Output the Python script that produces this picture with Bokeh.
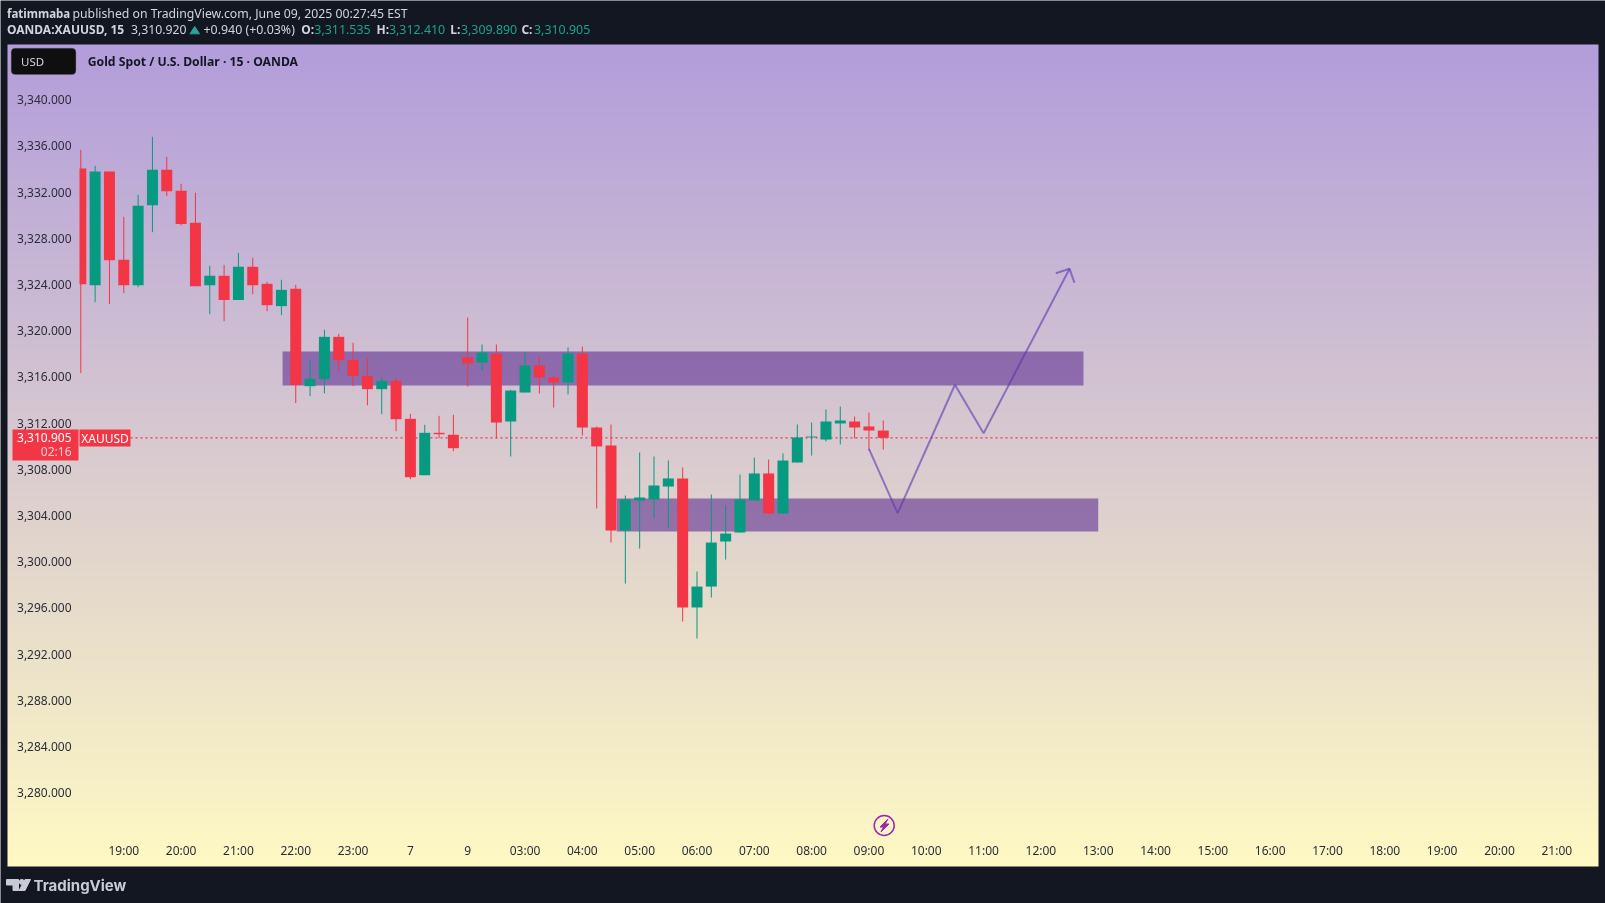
import numpy as np
from bokeh.core.properties import value
from bokeh.embed import file_html
from bokeh.models import BoxAnnotation, FixedTicker, LinearAxis, NumeralTickFormatter, Range1d
from bokeh.plotting import figure
from bokeh.resources import INLINE

# candles, 15 min bars, first bar is 18:15
opens = [3334.22, 3324.12, 3333.97, 3326.32, 3324.12, 3331.05, 3334.11, 3332.29, 3329.52, 3324.12,
         3324.93, 3322.83, 3325.71, 3324.24, 3322.31, 3323.81, 3315.38, 3315.99, 3319.65, 3317.66,
         3316.27, 3315.12, 3315.84, 3312.55, 3307.67, 3311.34, 3311.17, 3317.86, 3317.43, 3318.18,
         3312.32, 3314.83, 3317.17, 3316.13, 3315.70, 3318.21, 3311.80, 3310.24, 3302.88, 3305.48,
         3305.57, 3306.69, 3307.39, 3296.22, 3298.03, 3301.93, 3302.71, 3305.48, 3307.82, 3304.35,
         3308.77, 3310.94, 3310.76, 3312.15, 3312.32, 3311.89, 3311.535]
highs = [3335.84, 3334.46, 3333.97, 3330.04, 3331.95, 3336.97, 3335.24, 3332.90, 3332.12, 3325.80,
         3325.88, 3326.92, 3326.49, 3324.41, 3324.59, 3324.15, 3317.66, 3320.26, 3319.91, 3319.13,
         3317.83, 3316.10, 3316.10, 3312.98, 3312.03, 3312.81, 3312.90, 3321.32, 3318.99, 3318.99,
         3315.06, 3318.29, 3317.95, 3316.30, 3318.73, 3318.81, 3311.89, 3312.06, 3305.91, 3309.64,
         3309.29, 3308.94, 3308.34, 3299.33, 3306.00, 3305.05, 3307.73, 3309.20, 3309.03, 3309.55,
         3312.06, 3312.23, 3313.36, 3313.62, 3312.75, 3313.10, 3312.41]
lows = [3316.51, 3322.65, 3322.48, 3323.43, 3323.95, 3328.71, 3331.83, 3329.29, 3324.04, 3321.61,
        3321.01, 3322.83, 3323.34, 3321.87, 3321.53, 3313.91, 3314.51, 3314.77, 3316.68, 3315.38,
        3313.73, 3312.96, 3311.48, 3307.33, 3307.67, 3310.88, 3309.75, 3315.35, 3316.74, 3310.85,
        3309.29, 3314.83, 3314.74, 3313.53, 3314.66, 3311.11, 3304.79, 3301.84, 3298.29, 3301.32,
        3303.92, 3303.06, 3295.00, 3293.53, 3297.08, 3300.37, 3302.71, 3305.48, 3304.35, 3304.35,
        3308.77, 3309.38, 3310.59, 3310.33, 3310.85, 3309.81, 3309.89]
closes = [3324.21, 3333.97, 3326.29, 3324.12, 3330.99, 3334.11, 3332.26, 3329.41, 3324.04, 3324.93,
          3322.83, 3325.71, 3324.12, 3322.39, 3323.72, 3315.47, 3316.01, 3319.65, 3317.63, 3316.25,
          3315.12, 3315.84, 3312.52, 3307.50, 3311.34, 3311.22, 3310.01, 3317.34, 3318.29, 3312.23,
          3315.00, 3317.17, 3316.13, 3315.70, 3318.21, 3311.80, 3310.16, 3302.88, 3305.57, 3305.74,
          3306.78, 3307.39, 3296.22, 3298.03, 3301.84, 3302.62, 3305.57, 3307.82, 3304.35, 3308.94,
          3310.94, 3311.02, 3312.32, 3312.41, 3311.80, 3311.54, 3310.905]

# hand drawn stuff on the chart
zone_left = [14.08, 37.4]
zone_right = [69.97, 71.0]
zone_top = [3318.38, 3305.65]
zone_bottom = [3315.44, 3302.80]
path_bars = [55, 57, 61, 63, 69]
path_prices = [3309.95, 3304.38, 3315.50, 3311.31, 3325.54]
head_bars = [68.04, 69, 69.34]
head_prices = [3325.16, 3325.54, 3324.33]

last_price = 3310.905

price_ticks = [3280, 3284, 3288, 3292, 3296, 3300, 3304, 3308, 3312, 3316, 3320, 3324, 3328, 3332, 3336, 3340]
time_ticks = [3, 7, 11, 15, 19, 23, 27, 31, 35, 39, 43, 47, 51, 55, 59, 63, 67, 71, 75, 79, 83, 87, 91, 95, 99, 103]
time_labels = ["19:00", "20:00", "21:00", "22:00", "23:00", "7", "9", "03:00", "04:00", "05:00", "06:00", "07:00",
               "08:00", "09:00", "10:00", "11:00", "12:00", "13:00", "14:00", "15:00", "16:00", "17:00", "18:00",
               "19:00", "20:00", "21:00"]

# scale of the picture
W, H = 1605, 903
BAR_PX = 14.33
BAR0_X = 80.3
PRICE_PX = 11.55
P3316_Y = 378.5
LEFT, RIGHT, TOP, BOTTOM = 7, 1598, 44, 866
LABEL_LIFT = 2.2  # price labels sit a bit above their level
FONT = "Noto Sans"
DARK = "#131722"
RED = "#f23645"
GREEN = "#089981"


def bar_at(px):
    return (px - BAR0_X) / BAR_PX


def price_at(py):
    return 3316 + (P3316_Y - py) / PRICE_PX


p = figure(width=W, height=H, output_backend="svg", toolbar_location=None,
           x_range=Range1d(bar_at(0), bar_at(W)), y_range=Range1d(price_at(H), price_at(0)),
           x_axis_location=None, y_axis_location=None, min_border=0,
           background_fill_color=DARK, border_fill_color=DARK, outline_line_color=None)
p.styles = {"position": "fixed", "left": "0px", "top": "0px"}
p.grid.visible = False
# second set of ranges in picture pixels for header, footer and boxes
p.extra_x_ranges["px"] = Range1d(0, W)
p.extra_y_ranges["px"] = Range1d(H, 0)
p.extra_y_ranges["labels"] = Range1d(price_at(H + LABEL_LIFT), price_at(LABEL_LIFT))

# background gradient, bottom row first, packed as ABGR
rows = BOTTOM - TOP
t = np.linspace(0, 1, rows)
r = (255 + (179 - 255) * t).astype(np.uint32)
g = (249 + (157 - 249) * t).astype(np.uint32)
b = (196 + (219 - 196) * t).astype(np.uint32)
grad = (255 << 24 | b << 16 | g << 8 | r).reshape(rows, 1).astype(np.uint32)
p.image_rgba(image=[grad], x=bar_at(LEFT), y=price_at(BOTTOM), dw=bar_at(RIGHT) - bar_at(LEFT),
             dh=price_at(TOP) - price_at(BOTTOM))

# zones
p.quad(left=zone_left, right=zone_right, top=zone_top, bottom=zone_bottom,
       fill_color="#5f3093", fill_alpha=0.6, line_color=None)

# last price line
p.line([bar_at(130), bar_at(RIGHT)], [last_price, last_price], line_color=RED, line_width=1.2, line_dash=[2, 3])

# candles
bars = np.arange(len(opens))
colors = [GREEN if c >= o else RED for o, c in zip(opens, closes)]
body = 11 / BAR_PX
left = bars - body / 2
left[0] = bar_at(79)  # first bar is cut by the price scale
p.segment(x0=bars, x1=bars, y0=lows, y1=highs, line_color=colors, line_width=1)
p.quad(left=left, right=bars + body / 2, top=np.maximum(opens, closes), bottom=np.minimum(opens, closes),
       fill_color=colors, line_color=None)

# projected path
p.line(path_bars, path_prices, line_color="#5e35b1", line_alpha=0.6, line_width=2)
p.line(head_bars, head_prices, line_color="#5e35b1", line_alpha=0.6, line_width=2)

# axes sit inside the chart like on TradingView
yaxis = LinearAxis(fixed_location=bar_at(78), y_range_name="labels", ticker=FixedTicker(ticks=price_ticks),
                   formatter=NumeralTickFormatter(format="0,0.000"),
                   axis_line_color=None, major_tick_line_color=None, minor_tick_line_color=None,
                   major_label_text_font=FONT, major_label_text_font_size="12px",
                   major_label_text_color="#2a2e39", major_label_standoff=1)
p.add_layout(yaxis, "left")
xaxis = LinearAxis(fixed_location=price_at(834.8), ticker=FixedTicker(ticks=time_ticks),
                   major_label_overrides=dict(zip(time_ticks, time_labels)),
                   axis_line_color=None, major_tick_line_color=None, minor_tick_line_color=None,
                   major_label_text_font=FONT, major_label_text_font_size="12px",
                   major_label_text_color="#2a2e39", major_label_standoff=1)
p.add_layout(xaxis, "below")


def txt(x, y, s, color="#d1d4dc", size=12.0, bold=False, align="left", font=FONT):
    p.text(x=[x], y=[y], text=[s], x_range_name="px", y_range_name="px", text_color=color,
           text_font=value(font), text_font_size=f"{size}px", text_align=align, text_baseline="middle",
           text_font_style="bold" if bold else "normal", level="overlay")


# header
txt(6.5, 12.7, "fatimmaba", bold=True, size=11.5)
txt(72, 12.7, "published on TradingView.com, June 09, 2025 00:27:45 EST", size=12.25)
txt(6.5, 29.3, "OANDA:XAUUSD, 15", bold=True)
txt(130.5, 29.3, "3,310.920", size=12.25)
p.patch([189.5, 199, 194.2], [33.3, 33.3, 26], x_range_name="px", y_range_name="px", color="#26a69a")
txt(203, 29.3, "+0.940 (+0.03%)", size=12.4)
for x, name, x2, val in [(300.8, "O:", 313.8, "3,311.535"), (376, "H:", 388.4, "3,312.410"),
                         (449.7, "L:", 460.4, "3,309.890"), (520.9, "C:", 533.5, "3,310.905")]:
    txt(x, 29.3, name, bold=True)
    txt(x2, 29.3, val, color="#1aa38b", size=12.4)

# currency button and title
p.add_layout(BoxAnnotation(left=10.7, right=75.4, top=47.7, bottom=74, x_range_name="px", y_range_name="px",
                           fill_color="#0f0f0f", fill_alpha=1, line_color="#5d5d66", line_width=1,
                           border_radius=4, level="glyph"))
txt(20.5, 61, "USD", size=11.5)
txt(87.3, 60.7, "Gold Spot / U.S. Dollar · 15 · OANDA", color="#131722", size=12.2, bold=True)

# last price labels
p.quad(left=[12, 79], right=[78, 130], top=[429, 429], bottom=[460, 446], x_range_name="px", y_range_name="px",
       fill_color=RED, line_color=None)
txt(71, 436.7, "3,310.905", color="#ffffff", align="right")
txt(71, 450.7, "02:16", color="#fcd0d4", align="right")
txt(104.5, 437.5, "XAUUSD", color="#ffffff", align="center")

# lightning icon
p.scatter([883.7], [825], x_range_name="px", y_range_name="px", size=20, marker="circle",
          fill_color=None, line_color="#9c27b0", line_width=1.5)
p.patch([887.5, 879.5, 883, 880.5, 888.5, 884.5], [818.5, 826.5, 826.5, 831.5, 823.5, 823.5],
        x_range_name="px", y_range_name="px", color="#9c27b0")

# footer logo
logo = "#c8cbd3"
p.patch([6, 18, 18, 12.5, 12.5, 6], [879, 879, 890, 890, 884.5, 884.5], x_range_name="px", y_range_name="px", color=logo)
p.scatter([21.3], [881.4], x_range_name="px", y_range_name="px", size=5, marker="circle", color=logo)
p.patch([24.5, 30, 24.5, 18.5], [879, 879, 890, 890], x_range_name="px", y_range_name="px", color=logo)
txt(33, 884.5, "TradingView", color=logo, size=15, bold=True, font="Inter")

open("out.html", "w").write(file_html(p, INLINE))
